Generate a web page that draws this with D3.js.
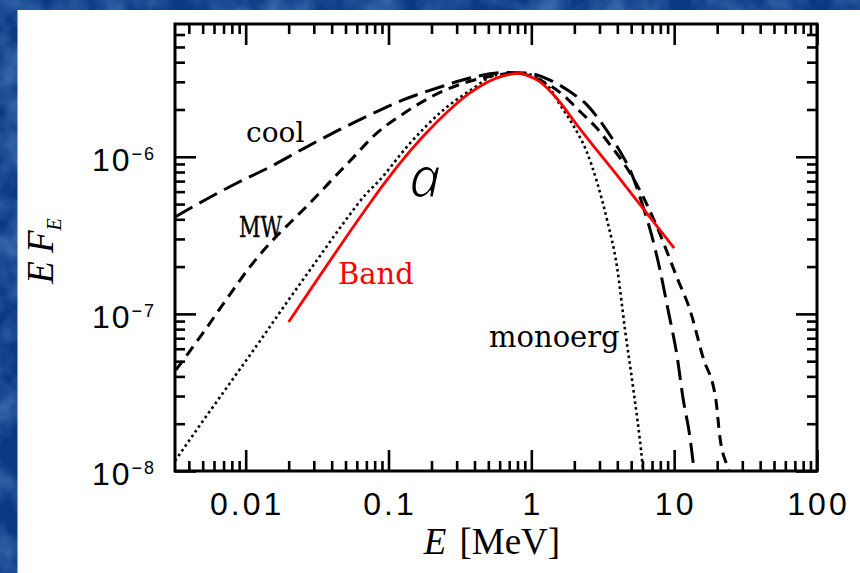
<!DOCTYPE html>
<html>
<head>
<meta charset="utf-8">
<script src="https://cdn.jsdelivr.net/npm/d3@7"></script>
<style>
  html, body { margin: 0; padding: 0; background: #0b3b87; }
  svg { display: block; }
</style>
</head>
<body>
<svg id="chart" width="860" height="573"></svg>
<script>
// Photon energy E [MeV] and E F_E for each model spectrum
const coolE = [0.0032, 0.00519, 0.00869, 0.0148, 0.026, 0.0436, 0.0741, 0.1264, 0.23, 0.372, 0.634, 0.933,
               1.35, 1.87, 2.45, 3.18, 4.18, 4.91, 6.06, 7.0, 7.96, 9.06, 10.5, 11.5, 12.9, 13.8];
const coolF = [4.14e-7, 5.31e-7, 6.81e-7, 8.61e-7, 1.14e-6, 1.46e-6, 1.85e-6, 2.30e-6, 2.78e-6, 3.17e-6, 3.44e-6, 3.41e-6,
               3.08e-6, 2.59e-6, 2.14e-6, 1.59e-6, 1.08e-6, 8.24e-7, 4.81e-7, 3.1e-7, 1.9e-7, 1.06e-7, 5.32e-8, 2.96e-8, 1.64e-8, 1.0e-8];

const mwE = [0.00325, 0.00502, 0.00753, 0.0107, 0.0148, 0.0204, 0.0282, 0.0389, 0.0537, 0.0817, 0.1205, 0.241, 0.355, 0.49, 0.769,
             1.15, 1.67, 2.19, 2.88, 3.56, 4.68, 5.5, 7.59, 10.5, 12.9, 15.9, 19.6, 20.9, 23.5, 24.2];
const mwF = [4.4e-8, 7.55e-8, 1.28e-7, 1.99e-7, 2.82e-7, 3.79e-7, 5.08e-7, 6.92e-7, 9.4e-7, 1.40e-6, 1.82e-6, 2.62e-6, 2.99e-6, 3.22e-6, 3.41e-6,
             3.08e-6, 2.47e-6, 1.94e-6, 1.52e-6, 1.19e-6, 8.45e-7, 6.6e-7, 3.57e-7, 1.69e-7, 1.06e-7, 5.3e-8, 2.83e-8, 1.64e-8, 1.08e-8, 1.0e-8];

const monoE = [0.0032, 0.00479, 0.00777, 0.0126, 0.0195, 0.0316, 0.0496, 0.0707, 0.083, 0.1415, 0.241, 0.372, 0.575, 0.875,
               1.29, 1.59, 1.96, 2.45, 2.88, 3.39, 3.98, 4.53, 5.15, 5.96, 6.06];
const monoF = [1.16e-8, 1.96e-8, 3.63e-8, 6.73e-8, 1.19e-7, 2.2e-7, 3.9e-7, 5.89e-7, 6.81e-7, 1.22e-6, 1.98e-6, 2.64e-6, 3.32e-6, 3.39e-6,
               2.86e-6, 2.14e-6, 1.59e-6, 1.07e-6, 6.92e-7, 3.96e-7, 1.99e-7, 7.9e-8, 3.43e-8, 1.17e-8, 1.0e-8];

const bandE = [0.02, 0.0741, 0.0915, 0.219, 0.372, 0.634, 0.834, 0.933, 1.15, 1.51, 2.09, 4.4, 10];
const bandF = [8.87e-8, 5.06e-7, 6.6e-7, 1.67e-6, 2.55e-6, 3.27e-6, 3.39e-6, 3.3e-6, 3.0e-6, 2.35e-6, 1.59e-6, 6.8e-7, 2.62e-7];

// Axis ticks and labels
const xMajor = [0.01, 0.1, 1, 10, 100];
const xLabels = ["0.01", "0.1", "1", "10", "100"];
const yMajor = [1e-8, 1e-7, 1e-6];
const yExponents = ["\u22128", "\u22127", "\u22126"];

const svg = d3.select("#chart");
const W = 860, H = 573;
const plot = { left: 175, right: 817, top: 24, bottom: 471 };

const x = d3.scaleLog().domain([0.0032, 100]).range([plot.left, plot.right]);
const y = d3.scaleLog().domain([1e-8, 7e-6]).range([plot.bottom, plot.top]);

const defs = svg.append("defs");

// mottled blue backdrop
const f = defs.append("filter").attr("id", "mottle").attr("x", 0).attr("y", 0).attr("width", 1).attr("height", 1);
f.append("feTurbulence").attr("type", "fractalNoise").attr("baseFrequency", 0.03).attr("numOctaves", 3).attr("seed", 7);
f.append("feColorMatrix").attr("type", "matrix")
  .attr("values", "0 0 0 0 0.16  0 0 0 0 0.38  0 0 0 0 0.72  1.0 0 0 0 -0.36");

defs.append("clipPath").attr("id", "plotClip")
  .append("rect")
  .attr("x", plot.left).attr("y", plot.top)
  .attr("width", plot.right - plot.left).attr("height", plot.bottom - plot.top);

svg.append("rect").attr("width", W).attr("height", H).attr("fill", "#0a3983");
svg.append("rect").attr("width", W).attr("height", H).attr("filter", "url(#mottle)");

// white page
svg.append("rect").attr("x", 17.5).attr("y", 10).attr("width", W - 17.5).attr("height", H - 10).attr("fill", "#ffffff");

// minor tick positions for the log axes
function minorTicks(scale) {
  const [lo, hi] = scale.domain();
  const out = [];
  for (let e = Math.floor(Math.log10(lo)); e <= Math.ceil(Math.log10(hi)); e++) {
    for (let k = 2; k <= 9; k++) {
      const v = k * Math.pow(10, e);
      if (v > lo * 1.001 && v < hi * 0.999) out.push(v);
    }
  }
  return out;
}
const xMinor = minorTicks(x);
const yMinor = minorTicks(y);

const MAJ = 21, MIN = 10;
const axes = svg.append("g").attr("class", "axes");

function addAxis(gen, transform) {
  const g = axes.append("g").attr("transform", transform).call(gen);
  g.select(".domain").remove();
  g.selectAll("line").attr("stroke", "#000").attr("stroke-width", 2.6);
  g.selectAll("text").remove();
  return g;
}
addAxis(d3.axisBottom(x).tickValues(xMinor).tickSize(-MIN), `translate(0,${plot.bottom})`);
addAxis(d3.axisBottom(x).tickValues(xMajor).tickSize(-MAJ), `translate(0,${plot.bottom})`);
addAxis(d3.axisTop(x).tickValues(xMinor).tickSize(-MIN), `translate(0,${plot.top})`);
addAxis(d3.axisTop(x).tickValues(xMajor).tickSize(-MAJ), `translate(0,${plot.top})`);
addAxis(d3.axisLeft(y).tickValues(yMinor).tickSize(-MIN), `translate(${plot.left},0)`);
addAxis(d3.axisLeft(y).tickValues(yMajor).tickSize(-MAJ), `translate(${plot.left},0)`);
addAxis(d3.axisRight(y).tickValues(yMinor).tickSize(-MIN), `translate(${plot.right},0)`);
addAxis(d3.axisRight(y).tickValues(yMajor).tickSize(-MAJ), `translate(${plot.right},0)`);

// frame
svg.append("rect")
  .attr("x", plot.left).attr("y", plot.top)
  .attr("width", plot.right - plot.left).attr("height", plot.bottom - plot.top)
  .attr("fill", "none").attr("stroke", "#000").attr("stroke-width", 3);

// x tick labels
const LS = 3;
svg.append("g").selectAll("text").data(xMajor).join("text")
  .attr("x", d => x(d) + LS / 2)
  .attr("y", 515)
  .attr("text-anchor", "middle")
  .attr("font-family", "Liberation Sans, Arial, sans-serif")
  .attr("font-size", 32)
  .attr("letter-spacing", LS)
  .attr("fill", "#000")
  .text((d, i) => xLabels[i]);

// y tick labels: 10 with superscript exponent
const yl = svg.append("g").selectAll("text").data(yMajor).join("text")
  .attr("x", 156)
  .attr("y", d => y(d) + 14)
  .attr("text-anchor", "end")
  .attr("font-family", "Liberation Sans, Arial, sans-serif")
  .attr("font-size", 32)
  .attr("letter-spacing", 2)
  .attr("fill", "#000");
yl.append("tspan").text("10");
yl.append("tspan").attr("dy", -11).attr("font-size", 18).text((d, i) => yExponents[i]);

// axis titles
const xt = svg.append("text")
  .attr("x", 492).attr("y", 554)
  .attr("text-anchor", "middle")
  .attr("font-family", "Liberation Serif, Times New Roman, serif")
  .attr("font-size", 37)
  .attr("fill", "#000");
xt.append("tspan").attr("font-style", "italic").text("E");
xt.append("tspan").attr("dx", 13).text("[MeV]");

const yt = svg.append("text")
  .attr("transform", "translate(53,251) rotate(-90)")
  .attr("text-anchor", "middle")
  .attr("font-family", "Liberation Serif, Times New Roman, serif")
  .attr("font-style", "italic")
  .attr("font-size", 37)
  .attr("fill", "#000");
yt.append("tspan").text("E");
yt.append("tspan").attr("dx", 8).text("F");
yt.append("tspan").attr("dy", 8).attr("font-size", 20).text("E");

// spectra
const line = d3.line().x(d => x(d[0])).y(d => y(d[1])).curve(d3.curveMonotoneX);
const zip = (a, b) => a.map((v, i) => [v, b[i]]);

const curves = svg.append("g").attr("clip-path", "url(#plotClip)").attr("fill", "none");
curves.append("path").attr("d", line(zip(monoE, monoF)))
  .attr("stroke", "#000").attr("stroke-width", 2.6).attr("stroke-dasharray", "2.6,3.2");
curves.append("path").attr("d", line(zip(mwE, mwF)))
  .attr("stroke", "#000").attr("stroke-width", 3).attr("stroke-dasharray", "11,7");
curves.append("path").attr("d", line(zip(coolE, coolF)))
  .attr("stroke", "#000").attr("stroke-width", 3).attr("stroke-dasharray", "20,8");
curves.append("path").attr("d", line(zip(bandE, bandF)))
  .attr("stroke", "#ff0000").attr("stroke-width", 2.8);

// curve labels
const labelFont = "DejaVu Serif, Liberation Serif, serif";
function label(txt, px, py, size, color) {
  return svg.append("text").attr("x", px).attr("y", py)
    .attr("font-family", labelFont).attr("font-size", size)
    .attr("fill", color).text(txt);
}
label("cool", 246, 142, 28, "#000");
label("MW", 239, 237, 27, "#000")
  .attr("textLength", 43).attr("lengthAdjust", "spacingAndGlyphs")
  .attr("stroke", "#000").attr("stroke-width", 0.4);
label("Band", 338, 284, 29, "#ff0000");
label("monoerg", 489, 347, 29, "#000");

// panel letter
svg.append("text").attr("x", 409).attr("y", 197)
  .attr("font-family", "Open Sans, Noto Sans, sans-serif")
  .attr("font-style", "italic").attr("font-size", 56)
  .attr("fill", "#000")
  .attr("stroke", "#fff").attr("stroke-width", 1.2)
  .text("a");
</script>
</body>
</html>
